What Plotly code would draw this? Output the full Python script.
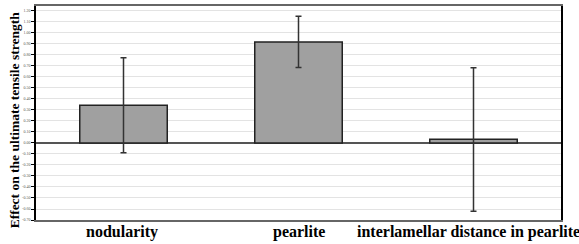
import plotly.graph_objects as go

categories = ["nodularity", "pearlite", "interlamellar distance in pearlite"]
effects = [0.343, 0.918, 0.034]
errors_plus = [0.432, 0.234, 0.65]
errors_minus = [0.431, 0.233, 0.655]
tick_values = [round(-0.7 + 0.1 * i, 2) for i in range(20)]
tick_labels = [f"{v:.2f}" for v in tick_values]
label_shifts = [-2, 0, -5]

fig = go.Figure()
fig.add_trace(go.Bar(
    x=categories, y=effects,
    marker=dict(color="#a0a0a0", line=dict(color="#222222", width=1.5)),
    error_y=dict(type="data", array=errors_plus, arrayminus=errors_minus,
                 symmetric=False, color="#333333", thickness=1.5, width=3),
    width=0.5,
))

annotations = [dict(
    text="<b>Effect on the ultimate tensile strength</b>",
    xref="paper", yref="paper", x=-0.042, y=0.47,
    xanchor="center", yanchor="middle", textangle=-90, showarrow=False,
    font=dict(family="Liberation Serif", size=13.5, color="black"),
)]
for i, (cat, sh) in enumerate(zip(categories, label_shifts)):
    annotations.append(dict(
        text=f"<b>{cat}</b>", x=(i + 0.5) / len(categories), xref="paper", y=0, yref="paper",
        xanchor="center", yanchor="top", yshift=-1, xshift=sh, showarrow=False,
        font=dict(family="Liberation Serif", size=16, color="black"),
    ))

fig.update_layout(
    width=579, height=244,
    margin=dict(l=36, r=18, t=6, b=24),
    paper_bgcolor="white", plot_bgcolor="white",
    showlegend=False,
    font=dict(family="Liberation Serif", color="black"),
    xaxis=dict(
        range=[-0.5, 2.5], autorange=False,
        showgrid=False, showline=True, linecolor="#666666", linewidth=1.5, mirror=True,
        ticks="", showticklabels=False, automargin=False,
    ),
    yaxis=dict(
        range=[-0.7, 1.245], tickvals=tick_values, ticktext=tick_labels,
        tickfont=dict(size=4, color="#555555"), automargin=False,
        showgrid=True, gridcolor="#e3e3e3", gridwidth=1,
        zeroline=True, zerolinecolor="#555555", zerolinewidth=2,
        showline=True, linecolor="black", linewidth=1.5, mirror=True,
        ticks="outside", ticklen=3, tickcolor="black",
    ),
    annotations=annotations,
)

fig.write_html("out.html", config={"displayModeBar": False},
               post_script="document.body.style.margin='0';document.body.style.overflow='hidden';")
